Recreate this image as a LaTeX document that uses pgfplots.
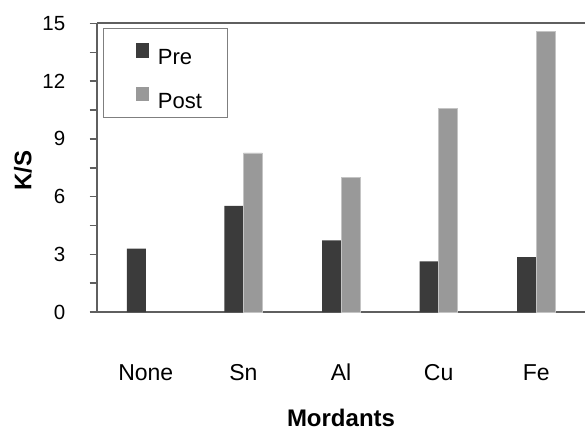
\documentclass[border=0pt]{standalone}
\usepackage{fontspec}
\setmainfont{Liberation Sans}
\usepackage{pgfplots}
\pgfplotsset{compat=1.18}
\definecolor{axgray}{HTML}{5F5F5F}
\definecolor{predark}{HTML}{3B3B3B}
\definecolor{postgray}{HTML}{999999}
\definecolor{postedge}{HTML}{C4C4C4}
\begin{document}
\begin{tikzpicture}
\path[use as bounding box] (0,0) rectangle (585pt,431pt);
\begin{axis}[
  at={(97pt,119pt)}, anchor=south west,
  scale only axis, width=488pt, height=288.5pt,
  xmin=-0.5, xmax=4.5, ymin=0, ymax=15,
  ybar=0pt, bar width=19pt,
  axis x line*=box, axis y line*=left,
  xtick={0,1,2,3,4}, xticklabels={None,Sn,Al,Cu,Fe},
  ytick={0,3,6,9,12,15}, minor ytick={1.5,4.5,7.5,10.5,13.5},
  tick align=outside, major tick length=7.5pt, minor tick length=7.5pt,
  x tick style={draw=none},
  y tick style={axgray, line width=1.5pt},
  minor y tick style={axgray, line width=1.5pt},
  axis line style={axgray, line width=2pt},
  /pgf/number format/assume math mode=true,
  yticklabel style={font=\fontsize{20.5}{24}\selectfont, anchor=east, inner sep=0pt, xshift=-24pt},
  xticklabel style={font=\fontsize{23}{27}\selectfont, anchor=base, inner sep=0pt, yshift=-61pt},
  ylabel={K/S},
  ylabel style={at={(axis description cs:-0.1516,0.491)}, anchor=center, inner sep=0pt, font=\fontsize{24}{28}\selectfont\bfseries},
  xlabel={Mordants},
  xlabel style={at={(axis description cs:0.5,-0.367)}, anchor=center, inner sep=0pt, font=\fontsize{24}{28}\selectfont\bfseries},
  legend style={at={(axis description cs:0.0123,0.983)}, anchor=north west,
    draw=axgray!80, line width=0.9pt, fill=white, inner sep=0pt,
    row sep=-1.7pt, column sep=9pt,
    font=\fontsize{22}{26}\selectfont,
    nodes={inner sep=0pt, text height=36pt, text depth=9pt, text width=70pt, anchor=base west}},
  legend cell align=left,
  legend image code/.code={\path (-32pt,0pt) (0pt,0pt); \fill[#1,draw=none] (0pt,7pt) rectangle (13pt,21.5pt);},
]
\addplot[fill=predark, draw=none] coordinates {(0,3.3) (1,5.52) (2,3.72) (3,2.63) (4,2.85)};
\addplot[fill=postgray, draw=postedge, line width=0.8pt] coordinates {(1,8.27) (2,6.99) (3,10.57) (4,14.58)};
\legend{Pre,Post}
\end{axis}
\end{tikzpicture}
\end{document}
